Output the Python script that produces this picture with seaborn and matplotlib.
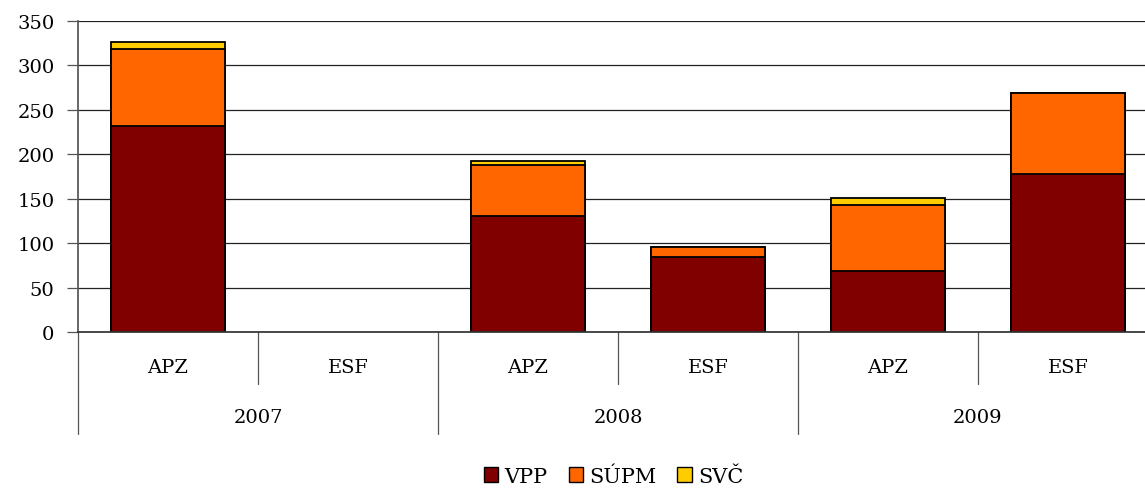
import pandas as pd
import seaborn as sns
import matplotlib.pyplot as plt
from matplotlib.patches import Patch

# values
years = ['2007', '2008', '2009']
sources = ['APZ', 'ESF']
vpp = [232, 0, 131, 84, 69, 178]
supm = [86, 0, 57, 12, 74, 91]
svc = [8, 0, 4, 0, 8, 0]

series_names = ['VPP', 'SÚPM', 'SVČ']
colors = ['#800000', '#FF6600', '#FFCC00']

slot_labels = [f'{y} {s}' for y in years for s in sources]
df = pd.DataFrame({'slot': slot_labels, 'VPP': vpp, 'SÚPM': supm, 'SVČ': svc})
df['top_supm'] = df['VPP'] + df['SÚPM']
df['top_svc'] = df['top_supm'] + df['SVČ']

sns.set_theme(style='white')
plt.rcParams['font.family'] = ['DejaVu Serif']
plt.rcParams['text.color'] = 'black'
plt.rcParams['ytick.labelcolor'] = 'black'

fig = plt.figure(figsize=(11.45, 4.89), dpi=100)
ax = fig.add_axes([78 / 1145, 156 / 489, 1080 / 1145, 311 / 489])

# stacked bars: draw cumulative totals from the top layer down
for col, c in zip(['top_svc', 'top_supm', 'VPP'], colors[::-1]):
    sns.barplot(data=df, x='slot', y=col, order=slot_labels, color=c, width=0.63,
                edgecolor='black', linewidth=1.3, saturation=1, ax=ax)

# no bar drawn where a slot is empty
for p in ax.patches:
    if p.get_height() == 0:
        p.set_visible(False)

ax.set_xlim(-0.5, 5.5)
ax.set_ylim(0, 350)
ax.set_yticks(range(0, 351, 50))
ax.yaxis.grid(True, color='#222222', linewidth=0.9)
ax.set_axisbelow(True)
ax.set_xlabel('')
ax.set_ylabel('')
ax.set_xticks([])
ax.tick_params(axis='y', labelsize=14, length=8, width=0.9, color='#555555',
               labelcolor='black', pad=9, left=True)
for side in ['top', 'right']:
    ax.spines[side].set_visible(False)
ax.spines['left'].set_color('#555555')
ax.spines['bottom'].set_color('#333333')

# two-level category axis below the plot
tr = ax.get_xaxis_transform()
ax.plot([-0.5, -0.5], [0, -0.328], color='#555555', lw=0.9, transform=tr, clip_on=False)
for i in range(6):
    if i > 0:
        low = -0.328 if i % 2 == 0 else -0.167
        ax.plot([i - 0.5, i - 0.5], [0, low], color='#555555', lw=0.9,
                transform=tr, clip_on=False)
    ax.text(i, -0.113, sources[i % 2], ha='center', va='center', fontsize=14,
            transform=tr)
for j, y in enumerate(years):
    ax.text(2 * j + 0.5, -0.273, y, ha='center', va='center', fontsize=14,
            transform=tr)

handles = [Patch(facecolor=c, edgecolor='black', linewidth=1) for c in colors]
fig.legend(handles, series_names, loc='center', bbox_to_anchor=(0.536, 0.024),
           ncol=3, frameon=False, fontsize=15, handlelength=0.7, handleheight=0.7,
           handletextpad=0.3, columnspacing=1.0)

fig.savefig('out.png', dpi=100)
